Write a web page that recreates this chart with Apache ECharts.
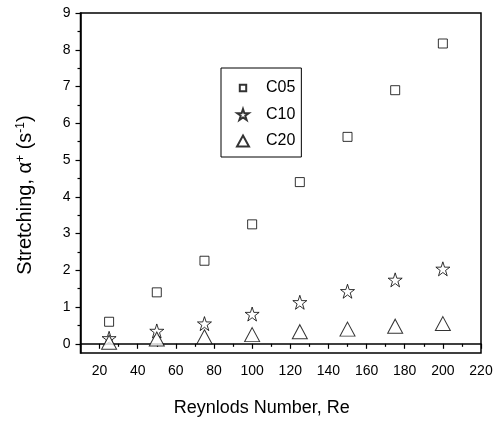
<!DOCTYPE html>
<html>
<head>
<meta charset="utf-8">
<script src="https://cdn.jsdelivr.net/npm/echarts@6/dist/echarts.min.js"></script>
<style>
  html, body { margin: 0; padding: 0; background: #fff; }
  #chart { width: 504px; height: 425px; }
</style>
</head>
<body>
<div id="chart"></div>
<script>
"use strict";

// Reynolds numbers shared by all three series
const reynolds = [25, 50, 75, 100, 125, 150, 175, 200];

// Stretching values
const c05 = [0.60, 1.40, 2.26, 3.25, 4.40, 5.63, 6.90, 8.17];
const c10 = [0.15, 0.35, 0.55, 0.81, 1.13, 1.43, 1.74, 2.04];
const c20 = [0.04, 0.13, 0.19, 0.25, 0.33, 0.40, 0.48, 0.55];

// Tick positions (axes start below the first major tick, so custom values)
const xMajorTicks = [20, 40, 60, 80, 100, 120, 140, 160, 180, 200, 220];
const xMinorTicks = [10, 30, 50, 70, 90, 110, 130, 150, 170, 190, 210];
const yMajorTicks = [0, 1, 2, 3, 4, 5, 6, 7, 8, 9];
const yMinorTicks = [0.5, 1.5, 2.5, 3.5, 4.5, 5.5, 6.5, 7.5, 8.5];

const FONT = "Liberation Sans, Arial, sans-serif";
const STAR = "path://M50,0 L61.8,35.5 L99,35.5 L69,57.5 L80.5,93 L50,71 L19.5,93 L31,57.5 L1,35.5 L38.2,35.5 Z";
// legend square drawn smaller than its slot: the extra move-tos widen the path's box
const SMALL_RECT = "path://M0,0 M12,12 M2.5,2.5 L9.5,2.5 L9.5,9.5 L2.5,9.5 Z";

const toPoints = (ys) => reynolds.map((x, i) => [x, ys[i]]);

const hollow = { color: "#fff", borderColor: "#000", borderWidth: 1 };

const axisLine = { show: true, lineStyle: { color: "#000", width: 1.5 } };

const chart = echarts.init(document.getElementById("chart"), null, { renderer: "canvas" });

chart.setOption({
  animation: false,
  backgroundColor: "#fff",
  textStyle: { fontFamily: FONT },
  grid: {
    left: 80.5, top: 13, right: 23, bottom: 72,
    show: true, borderColor: "#000", borderWidth: 1.5, backgroundColor: "transparent",
  },
  legend: {
    orient: "vertical",
    left: 221, top: 68,
    padding: [12, 6, 8, 15],
    itemWidth: 12, itemHeight: 11, itemGap: 10.5,
    backgroundColor: "#fff",
    borderColor: "#000", borderWidth: 1,
    textStyle: { fontFamily: FONT, fontSize: 16, color: "#000", padding: [0, 0, 0, 12] },
    data: [
      { name: "C05", icon: SMALL_RECT },
      { name: "C10", icon: STAR },
      { name: "C20", icon: "triangle" },
    ],
  },
  xAxis: [
    {
      type: "value", min: 10, max: 220,
      name: "Reynlods Number, Re", nameLocation: "middle", nameGap: 46,
      nameTextStyle: { fontFamily: FONT, fontSize: 18, color: "#000", padding: [0, 38, 0, 0] },
      axisLine,
      axisTick: { show: true, customValues: xMajorTicks, length: 5, lineStyle: { color: "#000", width: 1.2 } },
      axisLabel: { customValues: xMajorTicks, fontFamily: FONT, fontSize: 14, color: "#000", margin: 11 },
      splitLine: { show: false },
    },
    {
      type: "value", min: 10, max: 220, position: "bottom",
      axisLine: { show: false },
      axisTick: { show: true, customValues: xMinorTicks, length: 3, lineStyle: { color: "#000", width: 1.2 } },
      axisLabel: { show: false },
      splitLine: { show: false },
    },
  ],
  yAxis: [
    {
      type: "value", min: -0.25, max: 9,
      name: "Stretching, \u03b1{sup|+} (s{sup|-1})", nameLocation: "middle", nameGap: 45,
      nameTextStyle: {
        fontFamily: FONT, fontSize: 20, color: "#000", padding: [0, 24, 0, 0],
        rich: { sup: { fontFamily: FONT, fontSize: 12, color: "#000", verticalAlign: "top", padding: [0, 0, 9, 0] } },
      },
      axisLine,
      axisTick: { show: true, customValues: yMajorTicks, length: 5, lineStyle: { color: "#000", width: 1.2 } },
      axisLabel: { customValues: yMajorTicks, fontFamily: FONT, fontSize: 14, color: "#000", margin: 10 },
      splitLine: { show: false },
    },
    {
      type: "value", min: -0.25, max: 9, position: "left",
      axisLine: { show: false },
      axisTick: { show: true, customValues: yMinorTicks, length: 3, lineStyle: { color: "#000", width: 1.2 } },
      axisLabel: { show: false },
      splitLine: { show: false },
    },
  ],
  series: [
    { name: "C05", type: "scatter", symbol: "rect", symbolSize: 9, itemStyle: hollow, data: toPoints(c05) },
    { name: "C10", type: "scatter", symbol: STAR, symbolSize: 14, itemStyle: hollow, data: toPoints(c10) },
    { name: "C20", type: "scatter", symbol: "triangle", symbolSize: [15, 14], itemStyle: hollow, data: toPoints(c20) },
  ],
});
</script>
</body>
</html>
